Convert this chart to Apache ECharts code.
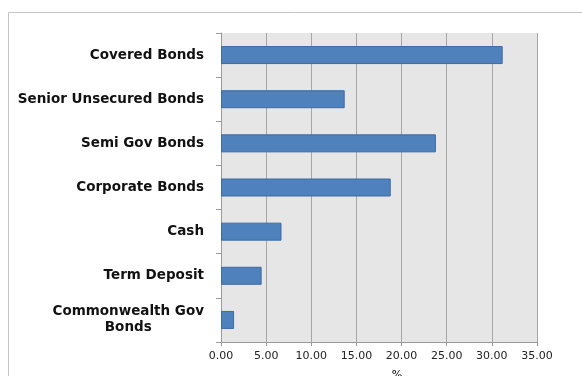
<!DOCTYPE html>
<html><head><meta charset="utf-8">
<script src="https://cdn.jsdelivr.net/npm/echarts@6/dist/echarts.min.js"></script>
<style>html,body{margin:0;padding:0;background:#fff}#c{width:582px;height:376px}</style>
</head><body><div id="c"></div>
<script>
var categories = ['Covered Bonds','Senior Unsecured Bonds','Semi Gov Bonds','Corporate Bonds','Cash','Term Deposit','Commonwealth Gov Bonds'];
var values = [31.2, 13.7, 23.8, 18.8, 6.7, 4.5, 1.45];
var axisMin = 0, axisMax = 35, axisStep = 5;
var axisName = '%';

var chart = echarts.init(document.getElementById('c'), null, {renderer:'canvas'});
chart.setOption({
  animation:false,
  graphic:[{type:'rect', shape:{x:8.5,y:12.5,width:620,height:420}, style:{fill:'none', stroke:'#c4c4c4', lineWidth:1}, z:-10}],
  grid:{left:221, right:45, top:33, bottom:34, show:true, backgroundColor:'#e6e6e6', borderWidth:0, outerBoundsMode:'none', containLabel:false},
  xAxis:{type:'value', min:axisMin, max:axisMax, interval:axisStep,
    name:axisName, nameLocation:'middle', nameGap:28,
    nameTextStyle:{fontFamily:'DejaVu Sans', fontSize:11, color:'#000', padding:[0,0,0,36]},
    axisLine:{show:true, lineStyle:{color:'#9a9a9a'}},
    axisTick:{show:true, length:4, lineStyle:{color:'#9a9a9a'}},
    axisLabel:{fontFamily:'DejaVu Sans', fontSize:11, color:'#222', margin:9, formatter:function(v){return v.toFixed(2);}},
    splitLine:{show:true, lineStyle:{color:'#a6a6a6'}}
  },
  yAxis:{type:'category', data:categories, inverse:true,
    axisLine:{show:true, lineStyle:{color:'#9a9a9a'}},
    axisTick:{show:true, length:5, lineStyle:{color:'#9a9a9a'}},
    axisLabel:{fontFamily:'DejaVu Sans', fontWeight:'bold', fontSize:13.5, color:'#111', margin:17, lineHeight:16,
      formatter:function(v){ if(v==='Commonwealth Gov Bonds') return '{a|Commonwealth Gov}\n{a|Bonds}'; return v; },
      rich:{a:{align:'center', fontFamily:'DejaVu Sans', fontWeight:'bold', fontSize:13.5, color:'#111', lineHeight:16}}
    },
    splitLine:{show:false}
  },
  series:[{type:'bar', data:values, barWidth:18,
    itemStyle:{color:'#4f81bd', borderColor:'#3c6aa3', borderWidth:1}}]
});
</script></body></html>
